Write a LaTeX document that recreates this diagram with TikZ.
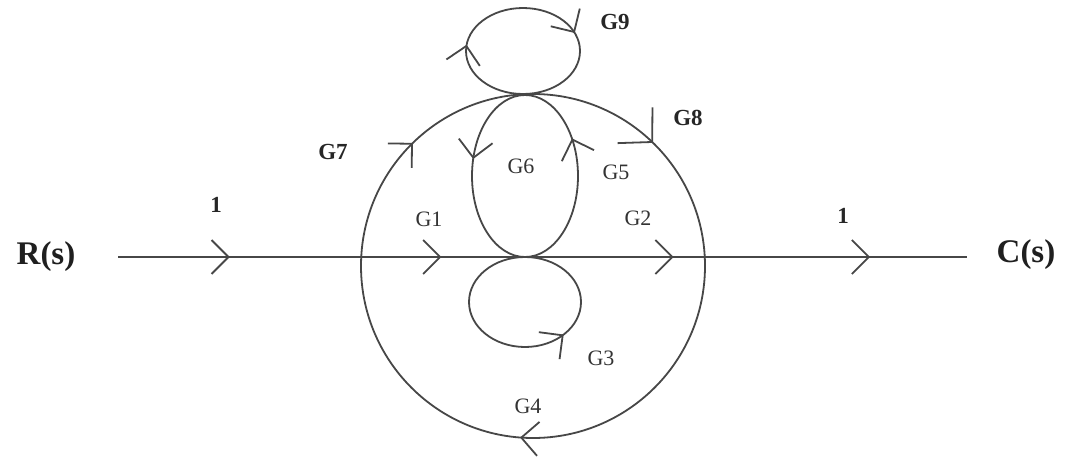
\documentclass[tikz,border=0pt]{standalone}
\usepackage{fontspec}
\setmainfont{Liberation Serif}
\usetikzlibrary{arrows.meta,decorations.markings}
\tikzset{
  sig/.style={draw=black!72, line width=2.6pt},
  lp/.style={draw=black!72, line width=1.8pt},
  >={Straight Barb[length=17pt,width=34pt,line width=1.8pt]},
  fwd/.style={postaction={decorate,decoration={markings,mark=at position #1 with {\arrow{>}}}}},
  fwdbig/.style={postaction={decorate,decoration={markings,mark=at position #1 with {\arrow{Straight Barb[length=24pt,width=50pt,line width=1.8pt]}}}}},
  bwd/.style={postaction={decorate,decoration={markings,mark=at position #1 with {\arrowreversed{>}}}}},
  lab/.style={font=\fontsize{22}{24}\selectfont, text=black!80, inner sep=0pt},
  blab/.style={font=\fontsize{23}{25}\selectfont\bfseries, text=black!85, inner sep=0pt},
  big/.style={font=\fontsize{33}{36}\selectfont\bfseries, text=black!88, inner sep=0pt}
}
\begin{document}
\begin{tikzpicture}[x=1pt,y=-1pt]
\path[use as bounding box, fill=white] (0,0) rectangle (1066,461);
% junctions
\coordinate (in) at (118,257);
\coordinate (n1) at (361,257);
\coordinate (n2) at (510,257);
\coordinate (n3) at (540,257);
\coordinate (n4) at (705,257);
\coordinate (out) at (967,257);
\coordinate (cB) at (533,266);
\coordinate (c6) at (525,176);
\coordinate (c3) at (525,302);
\coordinate (c9) at (523,51);
% end labels
\node[big] (R) at (46,257) {R(s)};
\node[big] (C) at (1026,255) {C(s)};
% forward path
\draw[sig, fwd=0.46] (in) -- (n1);
\draw[sig, fwd=0.54] (n1) -- (n2);
\draw[sig] (n2) -- (n3);
\draw[sig, fwd=0.81] (n3) -- (n4);
\draw[sig, fwd=0.63] (n4) -- (out);
% big loop (clockwise on screen)
\draw[lp, fwd=0.262, fwd=0.627, fwdbig=0.873] (cB) circle[radius=172];
% G6 loop
\draw[lp, bwd=0.54, bwd=0.91] (c6) ellipse[x radius=53, y radius=81];
% G3 loop
\draw[lp, bwd=0.12] (c3) ellipse[x radius=56, y radius=45];
% G9 loop
\draw[lp, fwd=0.94, fwd=0.52] (c9) ellipse[x radius=57, y radius=43];
% labels
\node[blab] (t1a) at (216,205) {1};
\node[blab] (t1b) at (843,216) {1};
\node[lab] (tG1) at (429,219) {G1};
\node[lab] (tG2) at (638,218) {G2};
\node[lab] (tG3) at (601,358) {G3};
\node[lab] (tG4) at (528,406) {G4};
\node[lab] (tG5) at (616,172) {G5};
\node[lab] (tG6) at (521,166) {G6};
\node[blab] (tG7) at (333,152) {G7};
\node[blab] (tG8) at (688,118) {G8};
\node[blab] (tG9) at (615,22) {G9};
\end{tikzpicture}
\end{document}
